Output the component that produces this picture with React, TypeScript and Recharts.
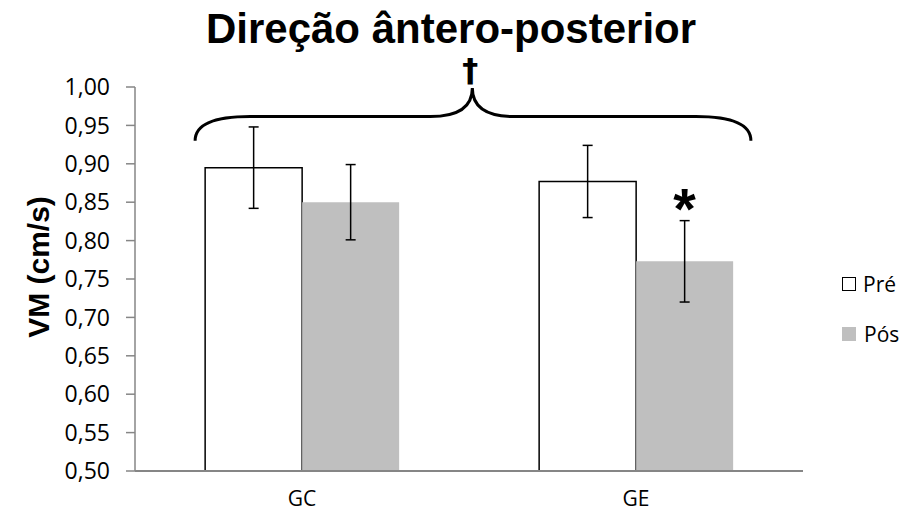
import { BarChart, Bar, XAxis, YAxis, ErrorBar, Legend, ReferenceArea, LabelList } from "recharts";

const grupos = ["GC", "GE"];
const valoresPre = [0.895, 0.877];
const valoresPos = [0.85, 0.773];
const erroPre = [0.053, 0.047];
const erroPos = [0.049, 0.053];
const marcaPos = ["", "*"];
const ticksY = [0.5, 0.55, 0.6, 0.65, 0.7, 0.75, 0.8, 0.85, 0.9, 0.95, 1.0];

const data = grupos.map((grupo, i) => ({
  grupo,
  pre: valoresPre[i],
  pos: valoresPos[i],
  erroPre: erroPre[i],
  erroPos: erroPos[i],
  marca: marcaPos[i],
}));

const fonteTexto = "'Open Sans', sans-serif";
const fonteTitulo = "'Liberation Sans', Arial, sans-serif";

// chave sobre os dois grupos, com a cruz no topo
const Chave = (props: any) => {
  const { x, y, width, height } = props;
  const l = x + width * 0.09;
  const r = x + width * 0.922;
  const c = x + width * 0.505;
  const base = y + height;
  const meio = y + height * 0.55;
  const topo = y + 1;
  const d = `M${l},${base} Q${l},${meio} ${l + 55},${meio} L${c - 42},${meio} Q${c},${meio} ${c},${topo} Q${c},${meio} ${c + 42},${meio} L${r - 55},${meio} Q${r},${meio} ${r},${base}`;
  return (
    <g>
      <path d={d} fill="none" stroke="#000" strokeWidth={3} />
      <text x={c - 2} y={topo - 7} textAnchor="middle" fontFamily="'DejaVu Sans', sans-serif" fontWeight="bold" fontSize={32} fill="#000">
        †
      </text>
    </g>
  );
};

const Asterisco = (props: any) => {
  const { x, y, width, value } = props;
  if (!value) return null;
  return (
    <text x={x + width / 2} y={y - 32} textAnchor="middle" fontFamily={fonteTitulo} fontWeight="bold" fontSize={58} fill="#000">
      {value}
    </text>
  );
};

const Legenda = () => (
  <div style={{ fontFamily: fonteTexto, fontSize: 21, color: "#000" }}>
    <div style={{ display: "flex", alignItems: "center", height: 30, marginBottom: 20 }}>
      <span style={{ width: 12, height: 12, border: "1.5px solid #000", background: "#fff", marginRight: 7 }} />
      Pré
    </div>
    <div style={{ display: "flex", alignItems: "center", height: 30 }}>
      <span style={{ width: 14, height: 14, background: "#bfbfbf", marginRight: 8 }} />
      Pós
    </div>
  </div>
);

const RotuloY = (props: any) => {
  const { viewBox } = props;
  const cy = viewBox.y + viewBox.height / 2 - 12;
  return (
    <text
      x={38}
      y={cy}
      transform={`rotate(-90, 38, ${cy})`}
      textAnchor="middle"
      dominantBaseline="central"
      fontFamily={fonteTitulo}
      fontWeight="bold"
      fontSize={30}
      fill="#000"
    >
      VM (cm/s)
    </text>
  );
};

export default function App() {
  return (
    <div style={{ position: "absolute", left: 0, top: 0, width: 908, height: 526, background: "#fff" }}>
      <div
        style={{
          position: "absolute",
          left: 0,
          top: 5,
          width: 902,
          textAlign: "center",
          fontFamily: fonteTitulo,
          fontWeight: "bold",
          fontSize: 42,
          color: "#000",
          lineHeight: "48px",
        }}
      >
        Direção ântero-posterior
      </div>
      <BarChart
        width={908}
        height={526}
        data={data}
        margin={{ top: 87, right: 105, bottom: 25, left: 0 }}
        barCategoryGap="21%"
        barGap={0}
      >
        <XAxis
          dataKey="grupo"
          height={30}
          axisLine={{ stroke: "#868686", strokeWidth: 2 }}
          tickLine={false}
          tickSize={0}
          tickMargin={20}
          tick={{ fill: "#000", fontSize: 21, fontFamily: fonteTexto }}
        />
        <YAxis
          width={135}
          domain={[0.5, 1.0]}
          ticks={ticksY}
          allowDataOverflow
          tickFormatter={(v: number) => v.toFixed(2).replace(".", ",")}
          axisLine={{ stroke: "#868686", strokeWidth: 1.5 }}
          tickLine={{ stroke: "#868686", strokeWidth: 1.5 }}
          tickSize={9}
          tickMargin={16}
          tick={{ fill: "#000", fontSize: 23, fontFamily: fonteTexto }}
          label={<RotuloY />}
        />
        <Legend
          layout="vertical"
          align="center"
          verticalAlign="middle"
          wrapperStyle={{ left: 842, top: 269, width: 66 }}
          content={<Legenda />}
        />
        <Bar dataKey="pre" name="Pré" fill="#fff" stroke="#000" strokeWidth={1.5} isAnimationActive={false}>
          <ErrorBar dataKey="erroPre" width={5} stroke="#000" strokeWidth={1.5} />
        </Bar>
        <Bar dataKey="pos" name="Pós" fill="#bfbfbf" isAnimationActive={false}>
          <ErrorBar dataKey="erroPos" width={5} stroke="#000" strokeWidth={1.5} />
          <LabelList dataKey="marca" content={<Asterisco />} />
        </Bar>
        <ReferenceArea x1="GC" x2="GE" y1={0.93} y2={1.0} shape={<Chave />} fill="none" stroke="none" />
      </BarChart>
    </div>
  );
}
